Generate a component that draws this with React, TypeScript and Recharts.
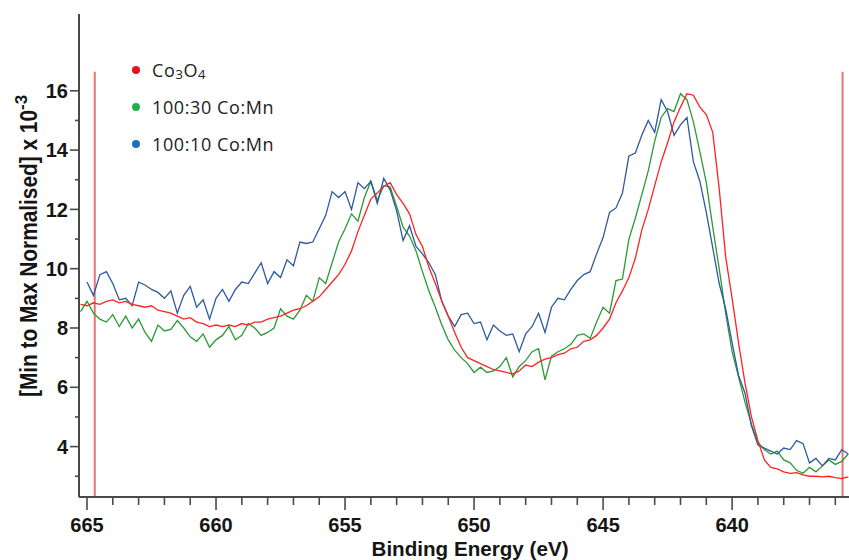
import React from 'react';
import { LineChart, Line, XAxis, YAxis, ReferenceLine, Legend } from 'recharts';

// Binding energy grid (eV)
const energies = [
  665.25, 665, 664.75, 664.5, 664.25, 664, 663.75, 663.5, 663.25, 663, 662.75, 662.5,
  662.25, 662, 661.75, 661.5, 661.25, 661, 660.75, 660.5, 660.25, 660, 659.75, 659.5,
  659.25, 659, 658.75, 658.5, 658.25, 658, 657.75, 657.5, 657.25, 657, 656.75, 656.5,
  656.25, 656, 655.75, 655.5, 655.25, 655, 654.75, 654.5, 654.25, 654, 653.75, 653.5,
  653.25, 653, 652.75, 652.5, 652.25, 652, 651.75, 651.5, 651.25, 651, 650.75, 650.5,
  650.25, 650, 649.75, 649.5, 649.25, 649, 648.75, 648.5, 648.25, 648, 647.75, 647.5,
  647.25, 647, 646.75, 646.5, 646.25, 646, 645.75, 645.5, 645.25, 645, 644.75, 644.5,
  644.25, 644, 643.75, 643.5, 643.25, 643, 642.75, 642.5, 642.25, 642, 641.75, 641.5,
  641.25, 641, 640.75, 640.5, 640.25, 640, 639.75, 639.5, 639.25, 639, 638.75, 638.5,
  638.25, 638, 637.75, 637.5, 637.25, 637, 636.75, 636.5, 636.25, 636, 635.75, 635.5,
];

// Co3O4 (red)
const co3o4 = [
  8.8, 8.75, 8.85, 8.8, 8.9, 8.95, 8.85, 8.9, 8.8, 8.75, 8.7, 8.75,
  8.6, 8.55, 8.5, 8.4, 8.3, 8.35, 8.2, 8.15, 8.05, 8.1, 8.05, 8.1,
  8.05, 8.15, 8.1, 8.2, 8.2, 8.3, 8.35, 8.4, 8.5, 8.6, 8.65, 8.75,
  8.9, 9.05, 9.3, 9.55, 9.8, 10.15, 10.6, 11.25, 11.8, 12.35, 12.55, 12.78,
  12.9, 12.5, 12.2, 11.85, 11.15, 10.75, 10.05, 9.5, 8.9, 8.4, 7.85, 7.35,
  7.0, 6.9, 6.8, 6.7, 6.6, 6.55, 6.5, 6.45, 6.55, 6.75, 6.7, 6.85,
  6.95, 7.0, 7.1, 7.15, 7.3, 7.35, 7.55, 7.6, 7.75, 8.0, 8.3, 8.85,
  9.25, 9.7, 10.35, 11.3, 12.0, 12.8, 13.6, 14.25, 14.95, 15.45, 15.9, 15.85,
  15.45, 15.2, 14.6, 12.7, 10.4, 9.0, 7.5, 6.14, 5.0, 4.2, 3.55, 3.3,
  3.25, 3.15, 3.1, 3.12, 3.05, 3.0, 3.0, 2.98, 3.0, 2.95, 2.92, 2.98,
];

// 100:30 Co:Mn (green)
const coMn30 = [
  8.55, 8.9, 8.5, 8.3, 8.2, 8.45, 8.05, 8.4, 8.0, 8.3, 7.85, 7.55,
  8.1, 7.9, 7.95, 8.25, 8.0, 7.7, 7.55, 7.8, 7.35, 7.6, 7.75, 8.05,
  7.6, 7.75, 8.15, 8.0, 7.75, 7.85, 8.0, 8.65, 8.4, 8.3, 8.6, 9.1,
  8.9, 9.7, 9.5, 10.2, 10.9, 11.35, 11.85, 11.6, 12.4, 12.95, 12.3, 12.8,
  12.75, 12.1, 11.4, 11.1, 10.6, 9.9, 9.25, 8.7, 8.1, 7.6, 7.25, 7.0,
  6.8, 6.5, 6.68, 6.5, 6.55, 6.7, 7.0, 6.35, 6.7, 6.9, 7.2, 7.3,
  6.25, 7.05, 7.2, 7.3, 7.45, 7.75, 7.8, 7.65, 8.2, 8.7, 8.5, 9.6,
  9.65, 11.0, 11.7, 12.5, 13.3, 14.3, 15.1, 15.4, 15.3, 15.9, 15.7, 14.95,
  13.95, 12.9, 11.4, 10.0, 8.5, 7.2, 6.35, 5.5, 4.75, 4.15, 3.9, 3.75,
  3.85, 3.55, 3.45, 3.2, 3.1, 3.3, 3.15, 3.35, 3.55, 3.4, 3.5, 3.75,
];

// 100:10 Co:Mn (blue)
const coMn10 = [
  null, 9.55, 9.1, 9.8, 9.9, 9.5, 8.95, 9.0, 8.75, 9.55, 9.45, 9.3,
  9.2, 9.0, 9.25, 8.5, 9.1, 9.4, 8.7, 8.95, 8.3, 9.0, 9.3, 8.9,
  9.3, 9.55, 9.5, 9.85, 10.2, 9.5, 9.9, 9.7, 10.3, 10.1, 10.9, 10.85,
  10.9, 11.35, 11.8, 12.6, 12.4, 12.6, 12.0, 12.9, 12.7, 12.95, 12.2, 13.05,
  12.65, 11.95, 10.95, 11.45, 10.75, 10.5, 10.2, 9.8, 8.9, 8.4, 8.05, 8.45,
  8.5, 8.15, 8.2, 7.6, 8.1, 7.9, 7.75, 7.8, 7.2, 7.8, 8.05, 8.5,
  7.85, 8.7, 9.0, 8.95, 9.3, 9.6, 9.8, 9.9, 10.5, 11.05, 11.9, 12.05,
  12.55, 13.8, 13.9, 14.5, 15.0, 14.6, 15.7, 15.3, 14.5, 14.85, 15.1, 13.6,
  12.95, 11.9, 10.7, 9.5, 8.65, 7.5, 6.4, 5.8, 4.7, 4.05, 3.95, 3.85,
  3.75, 3.95, 3.9, 4.2, 4.1, 3.45, 3.6, 3.35, 3.6, 3.55, 3.9, 3.75,
];

const seriesNames = ['Co3O4', '100:30 Co:Mn', '100:10 Co:Mn'];
const xTicks = [665, 664, 663, 662, 661, 660, 659, 658, 657, 656, 655, 654, 653, 652, 651, 650, 649, 648, 647, 646, 645, 644, 643, 642, 641, 640, 639, 638, 637, 636];
const yTicks = [3, 4, 5, 6, 7, 8, 9, 10, 11, 12, 13, 14, 15, 16];
const markerLines = [664.7, 635.72];

const X_DOMAIN = [635.47, 665.31];
const Y_DOMAIN = [2.3, 18.59];
const MARKER_TOP = 16.64;

const LINE_COLORS = ['#ff2222', '#2a9a36', '#2d5a9e'];
const DOT_COLORS = ['#e8101a', '#22b04b', '#1a6fc1'];
const AXIS_COLOR = '#4a4a4a';
const BOLD_FONT = '"Liberation Sans", Arial, Helvetica, sans-serif';

const X_MINOR = 8;
const X_MAJOR = 13;
const Y_MINOR = 4;
const Y_MAJOR = 9;

const data = energies.map((e, i) => ({ e, a: co3o4[i], b: coMn30[i], c: coMn10[i] }));

// x, y arrive at the end of the (minor-length) tick line
const XTick = (props: any) => {
  const x = Number(props.x);
  const y = Number(props.y);
  const v = props.payload.value;
  const major = v % 5 === 0;
  if (!major) return <g />;
  return (
    <g>
      <path d={`M${x},${y}L${x},${y + X_MAJOR - X_MINOR}`} stroke={AXIS_COLOR} strokeWidth={1.6} fill="none" />
      <text x={x} y={y + 27} textAnchor="middle" fontFamily={BOLD_FONT} fontWeight="bold" fontSize={20} fill="#151515">
        {v}
      </text>
    </g>
  );
};

const YTick = (props: any) => {
  const x = Number(props.x);
  const y = Number(props.y);
  const v = props.payload.value;
  const major = v % 2 === 0;
  if (!major) return <g />;
  return (
    <g>
      <path d={`M${x - (Y_MAJOR - Y_MINOR)},${y}L${x},${y}`} stroke={AXIS_COLOR} strokeWidth={1.6} fill="none" />
      <text x={x - 7} y={y} dy="0.36em" textAnchor="end" fontFamily={BOLD_FONT} fontWeight="bold" fontSize={20} fill="#151515">
        {v}
      </text>
    </g>
  );
};

const renderXLabel = () => (
  <text x={470} y={556} textAnchor="middle" fontFamily={BOLD_FONT} fontWeight="bold" fontSize={20} fill="#151515" textLength={197} lengthAdjust="spacingAndGlyphs">
    Binding Energy (eV)
  </text>
);

const renderYLabel = () => (
  <text transform="rotate(-90 37 397)" x={37} y={397} fontFamily={BOLD_FONT} fontWeight="bold" fontSize={24} fill="#151515">
    <tspan textLength={287} lengthAdjust="spacingAndGlyphs">[Min to Max Normalised]  x 10</tspan>
    <tspan fontSize={17} dy={-10}>-3</tspan>
  </text>
);

const legendLabel = (name: string) => {
  if (name === 'Co3O4') {
    return (
      <span>
        Co<span style={{ fontSize: 13, position: 'relative', top: 2 }}>3</span>O
        <span style={{ fontSize: 13, position: 'relative', top: 2 }}>4</span>
      </span>
    );
  }
  return <span>{name}</span>;
};

const renderLegend = () => (
  <div style={{ position: 'relative', width: 220, height: 110 }}>
    {seriesNames.map((name, i) => (
      <div
        key={name}
        style={{
          position: 'absolute',
          left: 0,
          top: i * 37,
          height: 20,
          display: 'flex',
          alignItems: 'center',
          fontFamily: '"Open Sans", "Noto Sans", sans-serif',
          fontSize: 18,
          letterSpacing: 0.6,
          color: '#222',
          whiteSpace: 'nowrap',
        }}
      >
        <span style={{ display: 'inline-block', width: 8, height: 8, borderRadius: 4, background: DOT_COLORS[i], marginRight: 12 }} />
        {legendLabel(name)}
      </div>
    ))}
  </div>
);

export default function App() {
  return (
    <div style={{ position: 'absolute', left: 0, top: 0, width: 849, height: 560, background: '#fff' }}>
      <LineChart width={849} height={560} data={data} margin={{ top: 14, right: 0, bottom: 0, left: 0 }}>
        <XAxis
          xAxisId="top"
          orientation="top"
          type="number"
          domain={X_DOMAIN}
          reversed
          allowDataOverflow
          height={0}
          tick={false}
          tickLine={false}
          axisLine={{ stroke: AXIS_COLOR, strokeWidth: 2 }}
        />
        <XAxis
          dataKey="e"
          type="number"
          domain={X_DOMAIN}
          reversed
          allowDataOverflow
          ticks={xTicks}
          interval={0}
          tickSize={X_MINOR}
          tickMargin={0}
          tickLine={{ stroke: AXIS_COLOR, strokeWidth: 1.6 }}
          tick={<XTick />}
          height={63}
          axisLine={{ stroke: AXIS_COLOR, strokeWidth: 2 }}
          label={renderXLabel}
        />
        <YAxis
          type="number"
          domain={Y_DOMAIN}
          allowDataOverflow
          ticks={yTicks}
          interval={0}
          tickSize={Y_MINOR}
          tickMargin={0}
          tickLine={{ stroke: AXIS_COLOR, strokeWidth: 1.6 }}
          tick={<YTick />}
          width={79}
          axisLine={{ stroke: AXIS_COLOR, strokeWidth: 2 }}
          label={renderYLabel}
        />
        {markerLines.map((m) => (
          <ReferenceLine
            key={m}
            segment={[{ x: m, y: Y_DOMAIN[0] }, { x: m, y: MARKER_TOP }]}
            stroke="#ee7272"
            strokeWidth={2}
            ifOverflow="visible"
          />
        ))}
        <Legend
          content={renderLegend}
          layout="vertical"
          align="center"
          verticalAlign="middle"
          wrapperStyle={{ left: 132, top: 60, width: 220, height: 110 }}
        />
        <Line type="linear" dataKey="b" name={seriesNames[1]} stroke={LINE_COLORS[1]} strokeWidth={1.3} dot={false} isAnimationActive={false} />
        <Line type="linear" dataKey="c" name={seriesNames[2]} stroke={LINE_COLORS[2]} strokeWidth={1.3} dot={false} isAnimationActive={false} />
        <Line type="linear" dataKey="a" name={seriesNames[0]} stroke={LINE_COLORS[0]} strokeWidth={1.3} dot={false} isAnimationActive={false} />
      </LineChart>
    </div>
  );
}
